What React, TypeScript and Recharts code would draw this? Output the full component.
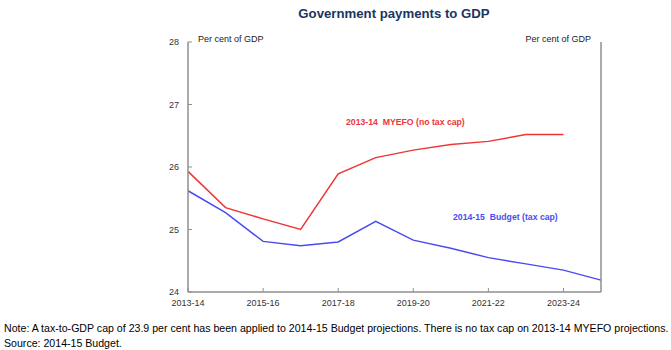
import { Line, LineChart, XAxis, YAxis } from "recharts";

const years = [
    "2013-14", "2014-15", "2015-16", "2016-17", "2017-18", "2018-19",
    "2019-20", "2020-21", "2021-22", "2022-23", "2023-24", "2024-25",
];
const myefoNoCap = [25.93, 25.35, 25.17, 25.0, 25.89, 26.15, 26.27, 26.36, 26.41, 26.52, 26.52, null];
const budgetTaxCap = [25.62, 25.27, 24.81, 24.74, 24.8, 25.13, 24.83, 24.7, 24.55, 24.45, 24.35, 24.19];
const yTicks = [24, 25, 26, 27, 28];

const data = years.map((year, i) => ({ year, myefo: myefoNoCap[i], budget: budgetTaxCap[i] }));

const FONT = "Arial, 'Liberation Sans', sans-serif";
const AXIS = "#8f8f8f";
const RED = "#ee3535";
const BLUE = "#4b4bf2";

// ticks are drawn on the inside of the axes, like the original
const LeftTick = (props: any) => {
    const { x, y, payload } = props;
    return (
        <g>
            <line x1={x + 9} x2={x + 13} y1={y} y2={y} stroke={AXIS} />
            <text x={x} y={y} dy={3} textAnchor="end" fontSize={9} fontFamily={FONT} fill="#333">{payload.value}</text>
        </g>
    );
};

const RightTick = (props: any) => {
    const { x, y, payload } = props;
    return (
        <g>
            <line x1={x - 9} x2={x - 13} y1={y} y2={y} stroke={AXIS} />
            <text x={x} y={y} dy={3} textAnchor="start" fontSize={9} fontFamily={FONT} fill="#333">{payload.value}</text>
        </g>
    );
};

const BottomTick = (props: any) => {
    const { x, y, payload } = props;
    return (
        <g>
            <line x1={x} x2={x} y1={y - 5} y2={y - 9} stroke={AXIS} />
            <text x={x} y={y} dy={9} textAnchor="middle" fontSize={9} fontFamily={FONT} fill="#333">{payload.value}</text>
        </g>
    );
};

const App = () => {
    return (
        <div style={{ position: "absolute", left: 0, top: 0, width: 671, height: 350, background: "#fff" }}>
            <LineChart width={671} height={350} data={data} margin={{ top: 42, right: 0, left: 0, bottom: 28 }}>
                <XAxis
                    dataKey="year"
                    interval={1}
                    tickSize={0}
                    tickMargin={5}
                    height={30}
                    tick={<BottomTick />}
                    tickLine={false}
                    axisLine={{ stroke: AXIS, strokeWidth: 1.5 }}
                />
                <YAxis
                    yAxisId="left"
                    domain={[24, 28]}
                    ticks={yTicks}
                    width={188}
                    tickSize={0}
                    tickMargin={9}
                    tick={<LeftTick />}
                    tickLine={false}
                    axisLine={{ stroke: AXIS, strokeWidth: 1.5 }}
                />
                <YAxis
                    yAxisId="right"
                    orientation="right"
                    domain={[24, 28]}
                    ticks={yTicks}
                    width={70}
                    tickSize={0}
                    tickMargin={9}
                    tick={<RightTick />}
                    tickLine={false}
                    axisLine={{ stroke: AXIS, strokeWidth: 1.5 }}
                />
                <Line yAxisId="left" dataKey="myefo" stroke={RED} strokeWidth={1.5} dot={false} isAnimationActive={false} />
                <Line yAxisId="left" dataKey="budget" stroke={BLUE} strokeWidth={1.5} dot={false} isAnimationActive={false} />
            </LineChart>
            <svg width={671} height={350} style={{ position: "absolute", left: 0, top: 0, pointerEvents: "none" }}>
                <text x={394} y={18} textAnchor="middle" fontSize={13.2} fontWeight="bold" fontFamily={FONT} fill="#1c355f">
                    Government payments to GDP
                </text>
                <text x={198} y={42} fontSize={9} fontFamily={FONT} fill="#222">Per cent of GDP</text>
                <text x={591} y={42} textAnchor="end" fontSize={9} fontFamily={FONT} fill="#222">Per cent of GDP</text>
                <text x={346} y={125} fontSize={8.7} fontWeight="bold" fontFamily={FONT} fill={RED} xmlSpace="preserve">
                    2013-14  MYEFO (no tax cap)
                </text>
                <text x={453} y={220} fontSize={8.7} fontWeight="bold" fontFamily={FONT} fill={BLUE} xmlSpace="preserve">
                    2014-15  Budget (tax cap)
                </text>
                <text x={4} y={332} fontSize={10.6} fontFamily={FONT} fill="#000">
                    Note: A tax-to-GDP cap of 23.9 per cent has been applied to 2014-15 Budget projections. There is no tax cap on 2013-14 MYEFO projections.
                </text>
                <text x={4} y={347} fontSize={10.6} fontFamily={FONT} fill="#000">
                    Source: 2014-15 Budget.
                </text>
            </svg>
        </div>
    );
};

export default App;
